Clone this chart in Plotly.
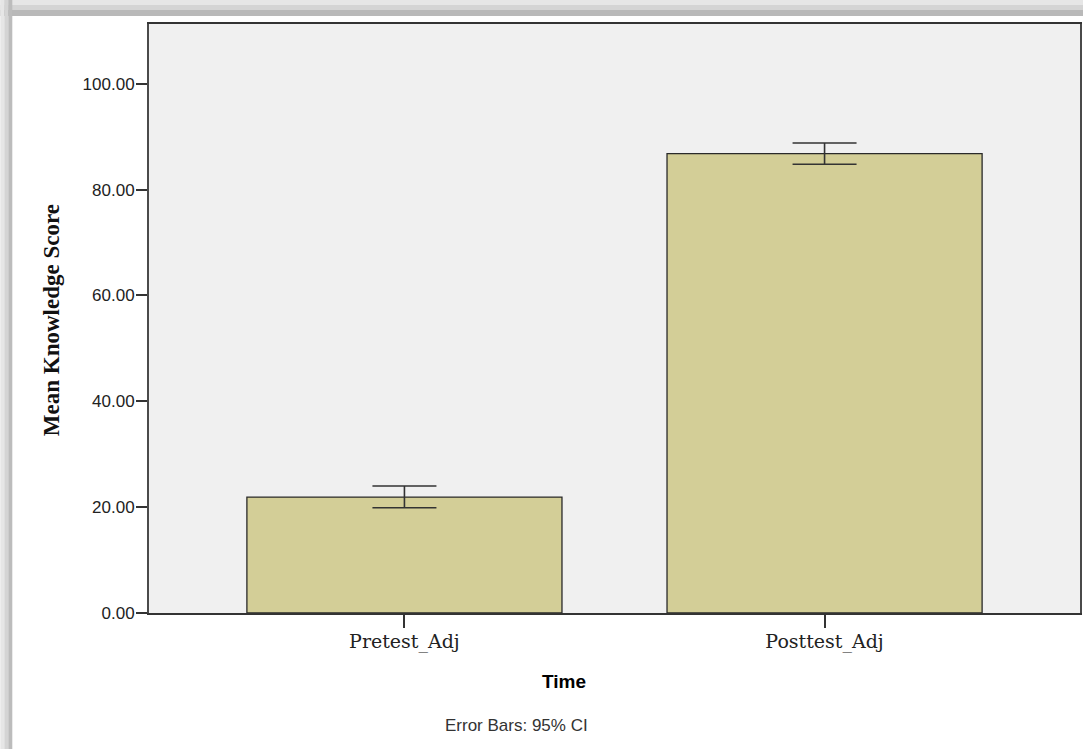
import plotly.graph_objects as go

# ---- data ----
categories = ["Pretest_Adj", "Posttest_Adj"]
means = [21.9, 86.8]
ci_upper = [24.0, 88.8]
ci_lower = [19.9, 84.8]
y_ticks = [0, 20, 40, 60, 80, 100]
y_tick_labels = ["0.00", "20.00", "40.00", "60.00", "80.00", "100.00"]

W, H = 1083, 749
L, R, T, B = 149, 1, 24, 136
PW, PH = W - L - R, H - T - B


def px_x(p):
    return (p - L) / PW


def px_y(p):
    return (H - B - p) / PH


err_plus = [u - m for u, m in zip(ci_upper, means)]
err_minus = [m - l for m, l in zip(means, ci_lower)]

fig = go.Figure()
fig.add_trace(go.Bar(
    x=list(range(len(categories))),
    y=means,
    width=0.75,
    marker=dict(color="#d3ce97", line=dict(color="#2a2a2a", width=1.3)),
    error_y=dict(type="data", symmetric=False, array=err_plus, arrayminus=err_minus,
                 color="#333333", thickness=1.6, width=32),
    hoverinfo="skip",
))

shapes = []
# gray screenshot frame (top and left), graded
frame = [("#e6e6e6", 0, 5), ("#d4d4d4", 5, 10), ("#b9b9b9", 10, 16)]
for col, a, b in frame:
    shapes.append(dict(type="rect", xref="paper", yref="paper",
                       x0=px_x(0), x1=px_x(W + 5), y0=px_y(a), y1=px_y(b),
                       fillcolor=col, line=dict(width=0), layer="below"))
frame_l = [("#e6e6e6", 0, 4), ("#d4d4d4", 4, 8), ("#bcbcbc", 8, 12)]
for col, a, b in frame_l:
    shapes.append(dict(type="rect", xref="paper", yref="paper",
                       x0=px_x(a), x1=px_x(b), y0=px_y(0), y1=px_y(H + 5),
                       fillcolor=col, line=dict(width=0), layer="below"))

annotations = [
    dict(text="Mean Knowledge Score", xref="paper", yref="paper",
         x=px_x(51), y=px_y(320), xanchor="center", yanchor="middle",
         textangle=-90, showarrow=False,
         font=dict(family="Liberation Serif", size=23, color="#111111", weight="bold")),
    dict(text="<b>Time</b>", xref="paper", yref="paper",
         x=px_x(565), y=px_y(681), xanchor="center", yanchor="middle",
         showarrow=False,
         font=dict(family="Liberation Sans", size=19, color="#000000")),
    dict(text="Error Bars: 95% CI", xref="paper", yref="paper",
         x=px_x(517), y=px_y(725), xanchor="center", yanchor="middle",
         showarrow=False,
         font=dict(family="Liberation Sans", size=17, color="#333333")),
]

fig.update_layout(
    width=W, height=H,
    margin=dict(l=L, r=R, t=T, b=B, pad=0),
    paper_bgcolor="white",
    plot_bgcolor="#f0f0f0",
    showlegend=False,
    shapes=shapes,
    annotations=annotations,
    xaxis=dict(
        range=[-0.608, 1.608],
        tickmode="array", tickvals=list(range(len(categories))), ticktext=categories,
        ticks="outside", ticklen=13, tickwidth=1.5, tickcolor="#333333",
        ticklabelstandoff=-3,
        showline=True, linecolor="#333333", linewidth=1.6, mirror=True,
        showgrid=False, zeroline=False,
        tickfont=dict(family="DejaVu Serif", size=19, color="#222222"),
    ),
    yaxis=dict(
        range=[0, 111.3],
        tickmode="array", tickvals=y_ticks, ticktext=y_tick_labels,
        ticks="outside", ticklen=11, tickwidth=1.5, tickcolor="#333333",
        ticklabelstandoff=-2,
        showline=True, linecolor="#4a4a4a", linewidth=2, mirror=True,
        showgrid=False, zeroline=False,
        tickfont=dict(family="Liberation Sans", size=17, color="#222222"),
    ),
)

fig.write_html(
    "out.html",
    config={"displayModeBar": False},
    post_script="document.body.style.margin='0';document.body.style.padding='0';"
                "document.body.style.overflow='hidden';",
)
